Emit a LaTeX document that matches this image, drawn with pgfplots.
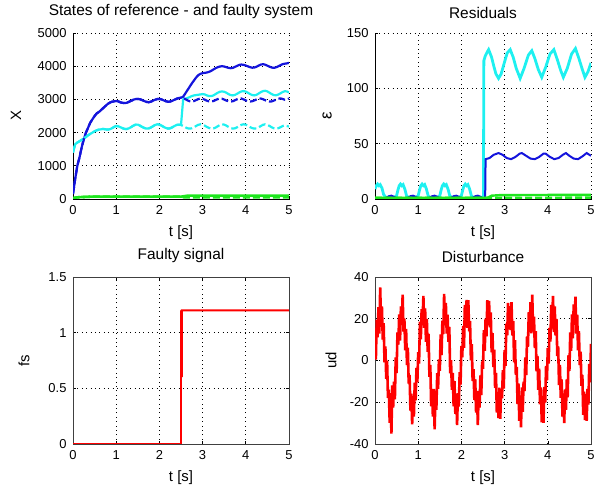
\documentclass[border=0pt]{standalone}
\usepackage{fontspec}
\setmainfont{Liberation Sans}
\usepackage{pgfplots}
\pgfplotsset{compat=1.18}
\usepackage{pgfplotstable}

\definecolor{mblue}{RGB}{20,20,220}
\definecolor{mcyan}{RGB}{30,240,240}
\definecolor{mgreen}{RGB}{30,230,30}
\definecolor{mred}{RGB}{255,0,0}

% states: faulty (F) and reference (R)
\pgfplotstableread{
t bF bR cF cR gF gR
0.00 150 150 1400 1400 20 20
0.05 600 600 1650 1650 40 40
0.10 1000 1000 1700 1700 50 50
0.15 1250 1250 1740 1740 55 55
0.20 1550 1550 1780 1780 60 60
0.25 1800 1800 1820 1820 60 60
0.30 2000 2000 1870 1870 65 65
0.35 2150 2150 1920 1920 65 65
0.40 2300 2300 1960 1960 70 70
0.45 2400 2400 2000 2000 70 70
0.50 2500 2500 2040 2040 70 70
0.55 2580 2580 2070 2070 70 70
0.60 2620 2620 2090 2090 70 70
0.65 2680 2680 2100 2100 70 70
0.70 2740 2740 2110 2110 70 70
0.75 2800 2800 2100 2100 70 70
0.80 2860 2860 2090 2090 70 70
0.85 2900 2900 2100 2100 70 70
0.90 2930 2930 2130 2130 70 70
0.95 2940 2940 2170 2170 70 70
1.00 2950 2950 2200 2200 70 70
1.05 2940 2940 2190 2190 70 70
1.10 2910 2910 2160 2160 70 70
1.15 2895 2895 2130 2130 70 70
1.20 2890 2890 2110 2110 70 70
1.25 2900 2900 2110 2110 70 70
1.30 2930 2930 2130 2130 70 70
1.35 2960 2960 2170 2170 70 70
1.40 2990 2990 2210 2210 70 70
1.45 3010 3010 2240 2240 70 70
1.50 3015 3015 2240 2240 70 70
1.55 3005 3005 2210 2210 70 70
1.60 2980 2980 2170 2170 70 70
1.65 2950 2950 2140 2140 70 70
1.70 2925 2925 2120 2120 70 70
1.75 2915 2915 2125 2125 70 70
1.80 2930 2930 2150 2150 70 70
1.85 2960 2960 2190 2190 70 70
1.90 2990 2990 2230 2230 70 70
1.95 3010 3010 2250 2250 70 70
2.00 3015 3015 2240 2240 70 70
2.05 3000 3000 2210 2210 70 70
2.10 2970 2970 2170 2170 70 70
2.15 2945 2945 2140 2140 70 70
2.20 2930 2930 2120 2120 70 70
2.25 2935 2935 2130 2130 70 70
2.30 2960 2960 2160 2160 70 70
2.35 2990 2990 2200 2200 70 70
2.40 3020 3020 2230 2230 70 70
2.45 3040 3040 2240 2240 70 70
2.50 3050 3050 2230 2230 70 70
2.55 3080 3040 3000 2200 80 55
2.60 3180 3010 3020 2160 90 50
2.65 3280 2970 3040 2130 100 50
2.70 3380 2945 3070 2120 100 50
2.75 3480 2935 3100 2130 100 50
2.80 3570 2950 3120 2160 100 50
2.85 3660 2980 3130 2200 100 50
2.90 3730 3010 3140 2235 100 50
2.95 3770 3025 3150 2250 100 50
3.00 3790 3020 3160 2240 100 50
3.05 3800 2990 3150 2210 100 50
3.10 3810 2960 3120 2170 100 50
3.15 3830 2940 3100 2140 100 50
3.20 3860 2935 3100 2120 100 50
3.25 3900 2950 3120 2125 100 50
3.30 3940 2980 3160 2150 100 50
3.35 3970 3010 3200 2190 100 50
3.40 3990 3025 3230 2230 100 50
3.45 4000 3020 3240 2250 100 50
3.50 3990 2995 3230 2240 100 50
3.55 3970 2965 3200 2210 100 50
3.60 3950 2945 3160 2170 100 50
3.65 3940 2935 3130 2135 100 50
3.70 3950 2945 3120 2120 100 50
3.75 3980 2975 3135 2130 100 50
3.80 4010 3005 3170 2160 100 50
3.85 4040 3025 3210 2200 100 50
3.90 4050 3025 3240 2235 100 50
3.95 4040 3000 3250 2250 100 50
4.00 4020 2970 3235 2240 100 50
4.05 3995 2945 3200 2205 100 50
4.10 3970 2935 3160 2165 100 50
4.15 3955 2945 3130 2135 100 50
4.20 3960 2970 3120 2120 100 50
4.25 3985 3000 3140 2130 100 50
4.30 4020 3020 3180 2160 100 50
4.35 4050 3025 3220 2200 100 50
4.40 4060 3005 3250 2235 100 50
4.45 4045 2975 3260 2250 100 50
4.50 4015 2950 3240 2235 100 50
4.55 3985 2935 3200 2200 100 50
4.60 3960 2940 3160 2160 100 50
4.65 3950 2965 3130 2130 100 50
4.70 3965 2995 3125 2120 100 50
4.75 3995 3020 3145 2130 100 50
4.80 4030 3030 3180 2160 100 50
4.85 4060 3015 3220 2195 100 50
4.90 4075 2990 3245 2215 100 50
4.95 4085 2990 3240 2200 100 50
5.00 4100 3030 3210 2180 100 50
}\states

\pgfplotsset{
  mlab/.style={
    scale only axis, width=216bp,
    xmin=0, xmax=5, xtick={0,...,5},
    grid=major,
    major grid style={black, line width=0.7bp, dash pattern=on 0.8bp off 3.6bp},
    tick align=inside, major tick length=3bp,
    tick style={black, line width=0.6bp},
    ticklabel style={font=\fontsize{13}{15}\selectfont},
    /pgf/number format/assume math mode=true,
    /pgf/number format/1000 sep={},
    scaled y ticks=false,
    xlabel={t [s]},
    xlabel style={font=\fontsize{15}{17}\selectfont, at={(axis description cs:0.5,0)}, anchor=north, yshift=-26bp, inner sep=0pt},
    title style={font=\fontsize{15.5}{17}\selectfont, at={(axis description cs:0.5,1)}, anchor=south, yshift=8bp, inner sep=0pt},
    ylabel style={font=\fontsize{15}{17}\selectfont, anchor=center},
    xticklabel style={yshift=-3bp},
    yticklabel style={xshift=-3bp},
  },
  boxoff/.style={axis x line*=bottom, axis y line*=left, axis line style={black, line width=0.8bp}},
  boxon/.style={axis line style={black!75, line width=0.9bp}},
}

\begin{document}
\begin{tikzpicture}
\path[use as bounding box] (0,0) rectangle (595bp,489bp);

% States
\begin{axis}[mlab, boxoff, at={(73bp,290bp)}, anchor=south west, height=166bp,
  ymin=0, ymax=5000, ytick={0,1000,...,5000},
  title={States of reference - and faulty system}, ylabel={X},
  ylabel style={at={(axis description cs:-0.264,0.5)}}]
\addplot[mblue, line width=2.2bp] table[x=t, y=bF] {\states};
\addplot[mcyan, line width=2.2bp] table[x=t, y=cF] {\states};
\addplot[mgreen, line width=2.6bp] table[x=t, y=gF] {\states};
\addplot[mblue, line width=2.2bp, dash pattern=on 7bp off 3bp] table[x=t, y=bR] {\states};
\addplot[mcyan, line width=2.2bp, dash pattern=on 7bp off 3bp] table[x=t, y=cR] {\states};
\addplot[mgreen, line width=2.6bp, dash pattern=on 7bp off 3bp] table[x=t, y=gR] {\states};
\end{axis}

% Residuals
\begin{axis}[mlab, boxoff, at={(375bp,290bp)}, anchor=south west, height=166bp,
  ymin=0, ymax=150, ytick={0,50,100,150},
  title={Residuals}, ylabel={ε},
  ylabel style={at={(axis description cs:-0.222,0.5)}, font=\fontsize{17}{19}\selectfont}]
\addplot[mcyan, line width=2.8bp] coordinates {
(0,9)(0.03,12)(0.06,13.5)(0.09,12)(0.12,13)(0.16,10)(0.2,4)(0.25,1.5)(0.35,1.2)(0.45,1.5)
(0.5,3)(0.53,8)(0.56,12)(0.59,13.5)(0.62,12)(0.65,13)(0.69,9)(0.73,3)(0.77,1.5)(0.85,1.2)(0.95,1.5)
(1,3)(1.03,8)(1.06,12)(1.09,13.5)(1.12,12)(1.15,13)(1.19,9)(1.23,3)(1.27,1.5)(1.35,1.2)(1.45,1.5)
(1.5,3)(1.53,8)(1.56,12)(1.59,13.5)(1.62,12)(1.65,13)(1.69,9)(1.73,3)(1.77,1.5)(1.85,1.2)(1.95,1.5)
(2,3)(2.03,8)(2.06,12)(2.09,13.5)(2.12,12)(2.15,13)(2.19,9)(2.23,3)(2.27,1.5)(2.35,1.2)(2.45,1.5)(2.51,1.5)
(2.52,125)(2.55,129)(2.6,133)(2.63,135)(2.7,128)(2.75,120)(2.8,113)(2.86,109)(2.92,113)(3,124)
(3.06,132)(3.13,135)(3.2,128)(3.27,118)(3.36,109)(3.45,118)(3.55,130)(3.63,134)(3.7,127)(3.78,117)
(3.86,110)(3.95,119)(4.05,131)(4.14,135)(4.22,126)(4.3,116)(4.36,110)(4.45,118)(4.55,131)(4.64,136)
(4.72,127)(4.8,117)(4.86,110)(4.93,115)(5,123)};
\addplot[mblue, line width=2bp] coordinates {
(0,0.6)(0.25,0.8)(0.32,2.5)(0.38,3)(0.44,2)(0.5,0.6)(0.75,0.8)(0.82,2.5)(0.88,3)(0.94,2)
(1,0.6)(1.25,0.8)(1.32,2.5)(1.38,3)(1.44,2)(1.5,0.6)(1.75,0.8)(1.82,2.5)(1.88,3)(1.94,2)
(2,0.6)(2.25,0.8)(2.32,2.5)(2.38,3)(2.44,2)(2.5,0.6)(2.55,0.6)(2.56,36)(2.65,37)(2.75,40)
(2.86,41.5)(2.95,40)(3.05,37)(3.15,36)(3.25,38)(3.35,41)(3.4,41.5)(3.5,39)(3.6,36.5)(3.7,36)
(3.8,38)(3.9,41)(3.95,41)(4.05,38)(4.15,36)(4.25,37)(4.35,40)(4.42,41.5)(4.5,39)(4.6,36.5)
(4.7,36)(4.8,38.5)(4.9,41.5)(5,39)};
\addplot[mgreen, line width=2.4bp] coordinates {(0,1)(2.6,1)(2.7,3)(2.9,3.5)(5,3.8)};
\addplot[mgreen, line width=2.4bp, dash pattern=on 7bp off 3bp] coordinates {(0,1)(5,1.2)};
\end{axis}

% Faulty signal
\begin{axis}[mlab, boxon, at={(73bp,45bp)}, anchor=south west, height=167bp,
  ymin=0, ymax=1.5, ytick={0,0.5,1,1.5},
  title={Faulty signal}, ylabel={fs},
  ylabel style={at={(axis description cs:-0.227,0.5)}}]
\addplot[mred, line width=1.8bp] coordinates {(0,0)(2.5,0)(2.5,1.2)(2.52,0.6)(2.52,1.2)(5,1.2)};
\end{axis}

% Disturbance
\begin{axis}[mlab, boxon, at={(375bp,45bp)}, anchor=south west, height=167bp,
  ymin=-40, ymax=40, ytick={-40,-20,0,20,40},
  title={Disturbance}, ylabel={ud},
  ylabel style={at={(axis description cs:-0.204,0.5)}}]
\addplot[mred, line width=2.6bp, line join=bevel] coordinates {
(0.00,6)(0.02,0.5)(0.04,19.6)(0.06,11.1)(0.08,25.6)(0.10,12.9)(0.12,35)(0.14,18.6)(0.16,25.9)(0.18,10)
(0.20,17.9)(0.22,-0.9)(0.24,6.8)(0.26,-8.8)(0.28,-0.1)(0.30,-17.9)(0.32,-14)(0.34,-29.9)(0.36,-15.6)(0.38,-35)
(0.40,-11.9)(0.42,-22.6)(0.44,-10.1)(0.46,-18.6)(0.48,1.5)
(0.50,-6)(0.52,13.5)(0.54,7.6)(0.56,22.1)(0.58,9.6)(0.60,25.9)(0.62,18)(0.64,31.6)(0.66,13.9)(0.68,20)
(0.70,4.9)(0.72,15.1)(0.74,-2.2)(0.76,6.2)(0.78,-11.1)(0.80,-6.9)(0.82,-24)(0.84,-15.9)(0.86,-30.6)(0.88,-17)
(0.90,-26.9)(0.92,-10.6)(0.94,-19.1)(0.96,-3.6)(0.98,-10.5)
(1.00,4)(1.02,-1.5)(1.04,18.6)(1.06,10.1)(1.08,24.6)(1.10,17.9)(1.12,31)(1.14,15.6)(1.16,24.9)(1.18,9)
(1.20,19.9)(1.22,4.1)(1.24,12.8)(1.26,-7.8)(1.28,-2.1)(1.30,-21.9)(1.32,-14)(1.34,-26.9)(1.36,-13.6)(1.38,-33)
(1.40,-16.9)(1.42,-23.6)(1.44,-6.1)(1.46,-13.6)(1.48,0.5)
(1.50,-5)(1.52,12.5)(1.54,2.6)(1.56,19.1)(1.58,12.6)(1.60,31.9)(1.62,19)(1.64,27.6)(1.66,12.9)(1.68,22)
(1.70,8.9)(1.72,16.1)(1.74,-6.2)(1.76,0.2)(1.78,-14.1)(1.80,-5.9)(1.82,-22)(1.84,-9.9)(1.86,-25.6)(1.88,-16)
(1.90,-30.9)(1.92,-15.6)(1.94,-22.1)(1.96,-5.6)(1.98,-11.5)
(2.00,7)(2.02,1.5)(2.04,16.6)(2.06,6.1)(2.08,26.6)(2.10,15.9)(2.12,29)(2.14,15.6)(2.16,28.9)(2.18,14)
(2.20,18.9)(2.22,0.1)(2.24,7.8)(2.26,-9.8)(2.28,-4.1)(2.30,-18.9)(2.32,-9)(2.34,-24.9)(2.36,-14.6)(2.38,-31)
(2.40,-14.9)(2.42,-22.6)(2.44,-7.1)(2.46,-16.6)(2.48,-0.5)
(2.50,-4)(2.52,14.5)(2.54,4.6)(2.56,20.1)(2.58,11.6)(2.60,28.9)(2.62,17)(2.64,28.6)(2.66,15.9)(2.68,23)
(2.70,3.9)(2.72,13.1)(2.74,-3.2)(2.76,5.2)(2.78,-13.1)(2.80,-5.9)(2.82,-25)(2.84,-15.9)(2.86,-27.6)(2.88,-13)
(2.90,-27.9)(2.92,-13.6)(2.94,-18.1)(2.96,-4.6)(2.98,-13.5)
(3.00,5)(3.02,-2.5)(3.04,17.6)(3.06,12.1)(3.08,27.6)(3.10,14.9)(3.12,26)(3.14,14.6)(3.16,27.9)(3.18,12)
(3.20,18.9)(3.22,-0.9)(3.24,9.8)(3.26,-6.8)(3.28,-3.1)(3.30,-20.9)(3.32,-11)(3.34,-28.9)(3.36,-17.6)(3.38,-32)
(3.40,-12.9)(3.42,-24.6)(3.44,-10.1)(3.46,-14.6)(3.48,1.5)
(3.50,-7)(3.52,11.5)(3.54,6.6)(3.56,23.1)(3.58,13.6)(3.60,27.9)(3.62,13)(3.64,31.6)(3.66,13.9)(3.68,21)
(3.70,5.9)(3.72,14.1)(3.74,-5.2)(3.76,2.2)(3.78,-14.1)(3.80,-3.9)(3.82,-21)(3.84,-12.9)(3.86,-29.6)(3.88,-17)
(3.90,-29.9)(3.92,-12.6)(3.94,-20.1)(3.96,-2.6)(3.98,-9.5)
(4.00,6)(4.02,-1.5)(4.04,15.6)(4.06,9.1)(4.08,26.6)(4.10,16.9)(4.12,31)(4.14,13.6)(4.16,25.9)(4.18,12)
(4.20,19.9)(4.22,2.1)(4.24,6.8)(4.26,-11.8)(4.28,-2.1)(4.30,-17.9)(4.32,-9)(4.34,-26.9)(4.36,-16.6)(4.38,-30)
(4.40,-13.9)(4.42,-23.6)(4.44,-9.1)(4.46,-17.6)(4.48,2.5)
(4.50,-5)(4.52,13.5)(4.54,4.6)(4.56,22.1)(4.58,10.6)(4.60,26.9)(4.62,18)(4.64,30.6)(4.66,12.9)(4.68,22)
(4.70,4.9)(4.72,14.1)(4.74,-2.2)(4.76,4.2)(4.78,-12.1)(4.80,-6.9)(4.82,-26)(4.84,-14.9)(4.86,-28.6)(4.88,-16)
(4.90,-28.9)(4.92,-13.6)(4.94,-21.1)(4.96,-1.6)(4.98,-10.5)(5.00,8)};
\end{axis}
\end{tikzpicture}
\end{document}
